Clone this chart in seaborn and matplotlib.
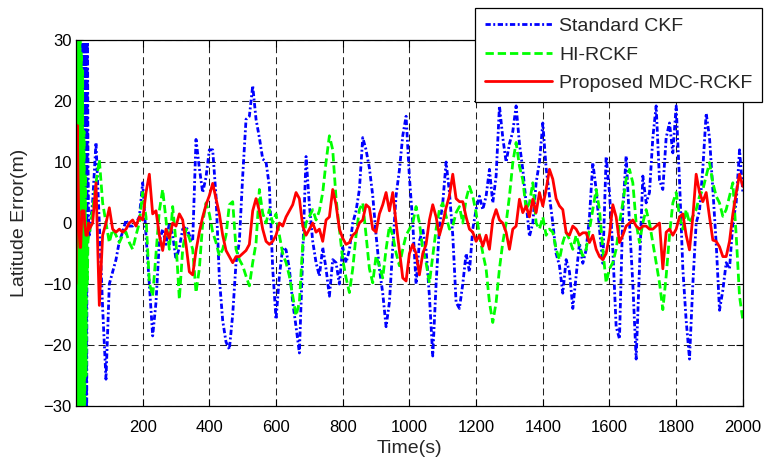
import numpy as np
import pandas as pd
import matplotlib
matplotlib.use("Agg")
import matplotlib.pyplot as plt
import seaborn as sns

# start-up transient (t = 0..38 s, 2 s step)
t_onset = [0, 2, 4, 6, 8, 10, 12, 14, 16, 18, 20, 22, 24, 26, 28, 30, 32, 34, 36, 38]
ckf_onset = [-40, 40, -40, 40, -40, 40, -40, 40, -40, 40, -40, 40, -40, 40, -40, 40, -40, 40, 10, 0]
hi_onset = [40, -40, 40, -40, 40, -40, 40, -40, 28, -40, 25, -40, 15, -40, 8, -25, 0, -10, -3, -2]
mdc_onset = [-10, 5, 16, 8, 2, -2, -4, -4, -1, 2, 1, 2, 2, 0, -1, -2, -2, -2, -1, 0]

# main run (t = 40..2000 s, 10 s step)
ckf = [
    -2, 3.5, 13.2, 0, -14, -25.6,                                  # 40-90
    -10, -8, -6, -3, -1.5, 0.5, -0.5, -0.5, 0, 1,                  # 100-190
    6.6, -2, -10, -18.5, -13, -3, -1, -3.5, 0, -2,                 # 200
    -6, -4, -1, -0.5, -2, -3, 13.7, 9, 5, 7.5,                     # 300
    12, 12, 4.4, -9, -16, -19.5, -20.7, -15, -6.5, -3,             # 400
    7.7, 17, 17.5, 22.5, 17, 14, 10.5, 10, 6, -7.5,                # 500
    -15.8, -8.7, -4, -4.4, -7.5, -13, -17, -21.3, -5, 10.9,        # 600
    3, -3, -6.5, -8.7, -4, -7.5, -12, -6, -6.5, -10,               # 700
    -4, -6.5, -4.4, 0, 2, 5.5, 14, 12, 9, 4.5,                     # 800
    -2, -7.5, -11.5, -17, -13, -4, 4.5, 8.7, 14.3, 17.5,           # 900
    7.5, 0, -10, -3, -1, -4.4, -12, -21.8, -10, -0.5,              # 1000
    3.3, 10, 5, -2, -13, -14, -10, -5, -8, -1,                     # 1100
    2.2, 4.4, 2.2, 4.4, 8.8, 3.3, 7.7, 19.2, 14, 10,               # 1200
    13, 15, 19.2, 13, 8.8, 3.3, -2.2, 0, 6.6, 10,                  # 1300
    16.4, 9, 4.4, 0, -5, -7, -11.5, -6, -8, -14,                   # 1400
    -8.7, -3.3, -6.6, -4.4, 1, 9.9, 5.5, -1, -6.6, 10.9,           # 1500
    5, -4.4, -17, -19, 2, 11, 0, -10, -22.3, -7.5,                 # 1600
    7.7, 3.3, 5, 14, 19.2, 7, 5.5, 14, 16.4, 11.5,                 # 1700
    19.2, 7, -7.5, -16, -22.3, -10, 0, 2, 9, 18,                   # 1800
    14, 5.5, -3.3, -14.3, -11, -6.5, -7.5, 0, 3.3, 12,             # 1900
    5,                                                             # 2000
]
hi_rckf = [
    -2, 2.2, 6.6, 10.4, 3.3, 0,                                    # 40-90
    -3.2, -1, -2, -3.2, -2, -1.5, -3.2, -4.3, -2, 0,               # 100
    5, 1, -9.8, -12, -5, 2, 5.5, 0.5, -4.3, 2.7,                   # 200
    -3.2, -12.5, -4.3, -1, -2.5, -4.3, -11.4, -7.5, 0, 3.3,        # 300
    1.5, -1.5, -3.2, -5.4, -4.3, -2, 3, 3.5, -4.3, -6,             # 400
    -7, -8.7, -10.3, -6.5, -3.3, 5.5, 1.6, 0, 2.2, 0,              # 500
    1.5, -2, -5, -6.5, -8.7, -12, -15.2, -13, -3.5, 0,             # 600
    1.1, 2.2, 0.5, 2, 5, 10, 14.3, 12, 4, -1,                      # 700
    -6, -9, -11.4, -7.5, -2, 2.2, 3.3, -2, -7.5, -9.8,             # 800
    -5.4, -7, -9, -4.3, -0.5, -2, -4.9, -7, -4.3, -2,              # 900
    -1, 0, 2.7, 0, -4.3, -6.5, -9.8, -5.4, -1, 2.2,                # 1000
    3.3, 1.1, -1, -0.5, 1.7, 2.7, 0, 3.9, 6, 4.4,                  # 1100
    1.7, -2, -4.9, -7.5, -13, -16.3, -13, -7.5, -3.2, 0,           # 1200
    4.4, 9.9, 13.2, 9.3, 7.1, 2.2, 3.3, 6.6, 0, -1,                # 1300
    1, -2, -1, -1.5, -4.3, -6, -3.2, -1.5, -2.7, -4.3,             # 1400
    -2, -3.8, -5.4, -4.3, -1, 2.2, 5.5, 2.2, -4.3, -9.8,           # 1500
    -7.5, -6.5, -4.3, 0, 3.3, 7.2, 8.8, 6.6, 0, -3.2,              # 1600
    0, 2.2, 0, -3.2, -6.5, -9.8, -14.2, -8.7, -2, 3.3,             # 1700
    5, 1.1, -1, 2.2, 0, 1.1, 2.2, 4.4, 5.5, 7.7,                   # 1800
    9.9, 6.6, 4.4, 3.3, 1.1, 2.2, 4.4, 6.6, -2, -12,               # 1900
    -15.9,                                                         # 2000
]
mdc_rckf = [
    -1, 0, 6.6, -13.5, -2, 0,                                      # 40-90
    2.5, -1, -1.5, -1, -1.5, -1, 0, 0.5, -0.5, 1,                  # 100
    0.5, 5, 8, 1.5, 2, -2, -4.5, -1, -2.5, 0,                      # 200
    -0.5, 1.5, 0.5, -3.5, -8, -8.5, -4.5, -1.5, 1, 3,              # 300
    4.5, 6.5, 4, 1.5, -2, -4.5, -5.5, -6.5, -5.5, -5.5,            # 400
    -5, -4.5, -3.5, 2, 4, 2, -1, -3, -3.5, -3,                     # 500
    -2, 0, -0.5, 1, 2, 3, 5, 4, -0.5, -2,                          # 600
    -1, 0, -1.5, -1, -3, 0.5, 1, 5.5, 3, -1,                       # 700
    -2.5, -3.5, -3.2, -2, -1.5, 0, 0.5, 3, 2.5, -1,                # 800
    -1.5, 1.5, 3, 5, 2, 5, 0, -4.5, -9, -9.5,                      # 900
    -5, -3.5, -5, -8.5, -5, -3.5, 0.5, 3, 1, -2,                   # 1000
    0, 2.5, 4.5, 8, 4, 3.5, 3.5, 1, -1, -1.5,                      # 1100
    -3, -2, -3.8, -2, -4.3, 0.5, 2.2, 0.5, 0, -1.5,                # 1200
    -4.3, -1, -0.5, 3.9, 1.7, 2.8, 1, 3.9, 1.7, 5,                 # 1300
    2.8, 5.5, 8.8, 7.2, 4, 2.8, 2.2, -1.6, -2, -0.5,               # 1400
    -1, -2, -1.6, -1.6, -3.2, -2, -4.3, -5.5, -6, -5,              # 1500
    -2, 3, 1, -3.2, -2, -0.5, 0, 0.5, -0.5, -1,                    # 1600
    -0.5, -0.5, -1, -1, -0.5, 0, -7.5, -1.5, -1, -2,               # 1700
    -1, 1, 1.5, -2, -4.4, 1, 8, 5, 3.5, 5,                         # 1800
    1, -2.8, -3, -3.9, -5.5, -5.5, -3, 1.5, 4.9, 8,                # 1900
    6,                                                             # 2000
]

t_main = np.arange(40, 2001, 10)
t_all = np.concatenate([t_onset, t_main])

series = [
    ("Standard CKF", ckf_onset + ckf, "#0000ff", (0, (1.9, 0.9, 0.7, 0.9))),
    ("HI-RCKF", hi_onset + hi_rckf, "#00ff00", (0, (3, 1.4))),
    ("Proposed MDC-RCKF", mdc_onset + mdc_rckf, "#ff0000", "-"),
]

sns.set_style("white")
plt.rcParams["font.family"] = ["Liberation Sans", "DejaVu Sans"]

fig = plt.figure(figsize=(7.69, 4.63), dpi=100)
ax = fig.add_axes([0.0988, 0.123, 0.8672, 0.7906])

for name, vals, color, ls in series:
    df = pd.DataFrame({"t": t_all, "err": vals})
    sns.lineplot(data=df, x="t", y="err", ax=ax, color=color, lw=2.0,
                 linestyle=ls, label=name, estimator=None, sort=False)

ax.set_xlim(0, 2000)
ax.set_ylim(-30, 30)
ax.set_xticks(np.arange(200, 2001, 200))
ax.set_yticks(np.arange(-30, 31, 10))
ax.tick_params(direction="in", length=5, width=0.8, labelsize=12, colors="black",
               top=True, right=True, bottom=True, left=True)
ax.tick_params(axis="x", pad=10)
ax.tick_params(axis="y", pad=3)
ax.grid(True, color="#222222", linestyle=(0, (6.7, 3.9)), linewidth=0.75)
for s in ax.spines.values():
    s.set_color("black")
    s.set_linewidth(0.9)

ax.set_xlabel("Time(s)", fontsize=14, labelpad=4)
ax.set_ylabel("Latitude Error(m)", fontsize=14, labelpad=11)

leg = ax.legend(loc="upper right", bbox_to_anchor=(0.991, 0.983),
                bbox_transform=fig.transFigure, fontsize=14, frameon=True,
                fancybox=False, framealpha=1, edgecolor="black",
                handlelength=3.45, borderpad=0.5, labelspacing=0.56,
                handletextpad=0.35, borderaxespad=0)
leg.get_frame().set_linewidth(0.9)

fig.savefig("out.png", dpi=100)
